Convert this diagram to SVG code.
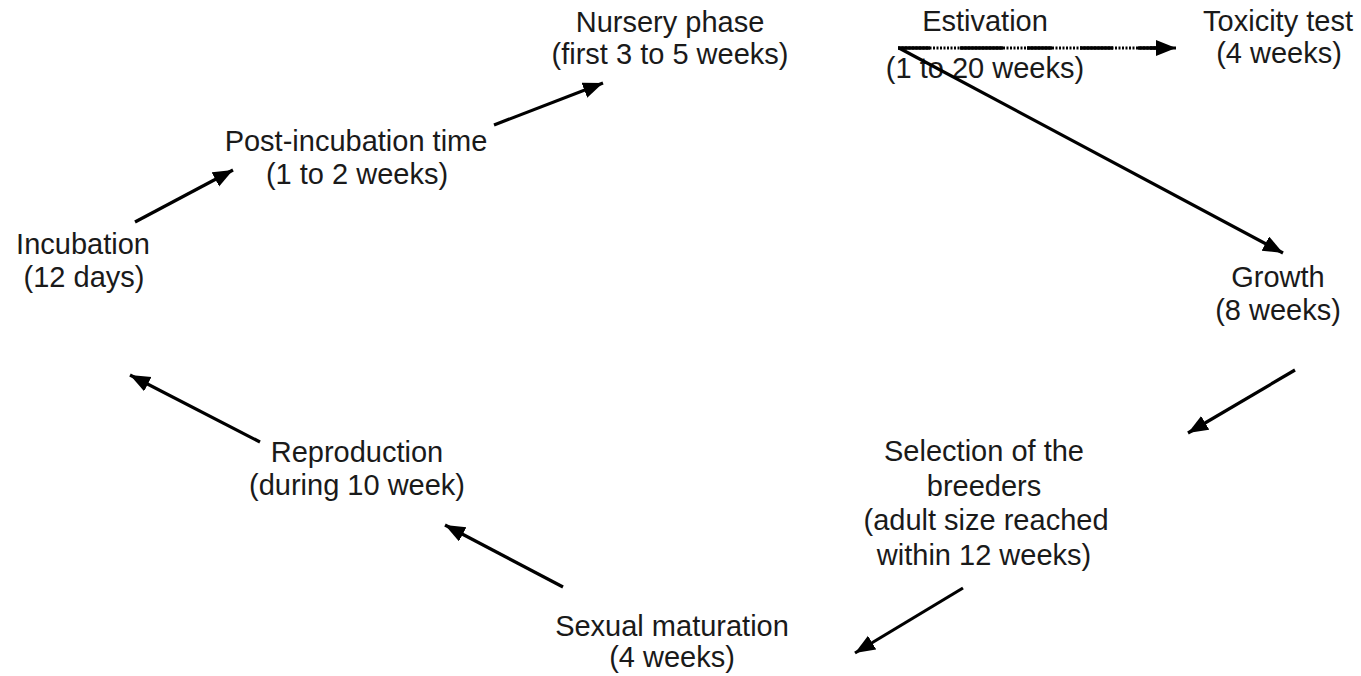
<svg xmlns="http://www.w3.org/2000/svg" width="1361" height="676" viewBox="0 0 1361 676">
<defs>
<marker id="ah" markerUnits="userSpaceOnUse" markerWidth="22" markerHeight="18" refX="20" refY="8" orient="auto">
<path d="M0,0 L20,8 L0,16 Z" fill="#000"/>
</marker>
<style>
text{font-family:"Liberation Sans",Arial,sans-serif;font-size:29px;fill:#1a1a1a;text-anchor:middle}
.c{stroke:#000;stroke-width:3.2;fill:none}
</style>
</defs>
<rect width="1361" height="676" fill="#fff"/>
<g id="nursery"><text x="670" y="32">Nursery phase</text><text x="670" y="64">(first 3 to 5 weeks)</text></g>
<g id="estivation"><text x="985" y="31">Estivation</text><text x="985" y="78">(1 to 20 weeks)</text></g>
<g id="toxicity"><text x="1278" y="31">Toxicity test</text><text x="1279" y="63">(4 weeks)</text></g>
<g id="postincubation"><text x="356" y="151">Post-incubation time</text><text x="357" y="184">(1 to 2 weeks)</text></g>
<g id="incubation"><text x="83" y="254">Incubation</text><text x="84" y="287">(12 days)</text></g>
<g id="growth"><text x="1278" y="287">Growth</text><text x="1278" y="320">(8 weeks)</text></g>
<g id="selection"><text x="984" y="461">Selection of the</text><text x="984" y="496">breeders</text><text x="986" y="530">(adult size reached</text><text x="984" y="565">within 12 weeks)</text></g>
<g id="reproduction"><text x="357" y="462">Reproduction</text><text x="357" y="495">(during 10 week)</text></g>
<g id="sexual"><text x="672" y="636">Sexual maturation</text><text x="672" y="667">(4 weeks)</text></g>
<g id="connectors">
<line class="c" x1="135" y1="222" x2="233" y2="170" marker-end="url(#ah)"/>
<line class="c" x1="494" y1="125" x2="603" y2="83" marker-end="url(#ah)"/>
<line class="c" x1="899" y1="48" x2="1283" y2="253" marker-end="url(#ah)"/>
<line x1="898" y1="48" x2="1160" y2="48" stroke="#000" stroke-width="3" stroke-dasharray="2 1.5"/>
<line x1="898" y1="48" x2="1160" y2="48" stroke="#000" stroke-width="3.5" stroke-dasharray="32 30 43 24 25 28 33 25 30"/>
<line x1="1150" y1="48" x2="1176" y2="48" stroke="#000" stroke-width="3" marker-end="url(#ah)"/>
<line class="c" x1="1295" y1="370" x2="1188" y2="433" marker-end="url(#ah)"/>
<line class="c" x1="963" y1="588" x2="855" y2="653" marker-end="url(#ah)"/>
<line class="c" x1="563" y1="587" x2="445" y2="525" marker-end="url(#ah)"/>
<line class="c" x1="260" y1="442" x2="130" y2="375" marker-end="url(#ah)"/>
</g>
</svg>
